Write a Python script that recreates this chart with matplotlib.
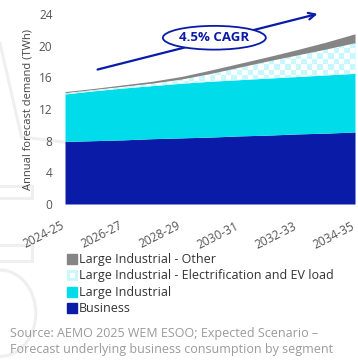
import numpy as np
import matplotlib
matplotlib.use("Agg")
import matplotlib.pyplot as plt
import matplotlib.transforms as mtransforms
from matplotlib.colors import ListedColormap
from matplotlib.patches import PathPatch, Ellipse, Rectangle, Arc
from matplotlib.lines import Line2D

plt.rcParams['font.family'] = ['Open Sans', 'DejaVu Sans']

# --- data (TWh) ---
years = ['2024-25', '2025-26', '2026-27', '2027-28', '2028-29', '2029-30',
         '2030-31', '2031-32', '2032-33', '2033-34', '2034-35']
business = [7.9, 8.0, 8.1, 8.25, 8.35, 8.45, 8.6, 8.7, 8.85, 8.95, 9.1]
large_ind = [6.0, 6.3, 6.55, 6.7, 6.9, 7.05, 7.1, 7.2, 7.25, 7.35, 7.4]
electrif = [0.1, 0.1, 0.15, 0.25, 0.45, 0.9, 1.5, 2.1, 2.65, 3.2, 3.8]
li_other = [0.2, 0.2, 0.25, 0.3, 0.4, 0.5, 0.55, 0.6, 0.75, 0.95, 1.2]
yticks = [0, 4, 8, 12, 16, 20, 24]
tick_years = years[::2]

c_bus = '#0a1ba8'
c_li = '#00dcea'
c_chk = '#c8f8fd'
c_oth = '#858585'

fig = plt.figure(figsize=(3.58, 3.60), dpi=100)

# faint watermark shapes on the left (behind everything)
wm = '#efefef'
wkw = dict(lw=2.2, transform=fig.transFigure, zorder=-5)
fig.lines.append(Line2D([0.0, 0.06], [0.88, 0.62], color=wm, **wkw))
fig.lines.append(Line2D([0.06, 0.18], [0.62, 0.605], color=wm, **wkw))
fig.patches.append(Rectangle((-0.02, 0.45), 0.11, 0.032, fill=False, ec=wm, **wkw))
fig.patches.append(Rectangle((-0.02, 0.275), 0.11, 0.045, fill=False, ec=wm, **wkw))
fig.patches.append(Arc((0.0, 0.13), 0.2, 0.24, theta1=-90, theta2=90, ec=wm, **wkw))

ax = fig.add_axes([65 / 358, 1 - 204 / 360, 290 / 358, 190 / 360])
x = np.arange(len(years))

b = np.array(business)
l_top = b + np.array(large_ind)
e_top = l_top + np.array(electrif)
o_top = e_top + np.array(li_other)

ax.fill_between(x, 0, b, color=c_bus, lw=0, zorder=2)
ax.fill_between(x, b, l_top, color=c_li, lw=0, zorder=2)
poly = ax.fill_between(x, l_top, e_top, color=c_chk, lw=0, zorder=2)
ax.fill_between(x, e_top, o_top, color=c_oth, lw=0, zorder=2)

# checker pattern clipped to the electrification band
nx, ny = 54, 34
chk = (np.add.outer(np.arange(ny), np.arange(nx)) % 2)
im = ax.imshow(chk, extent=[0, 10, 0, 24], cmap=ListedColormap(['white', c_chk]),
               aspect='auto', interpolation='nearest', origin='lower', zorder=3)
clip = PathPatch(poly.get_paths()[0], transform=ax.transData, fc='none', ec='none')
ax.add_patch(clip)
im.set_clip_path(clip)

ax.set_xlim(0, 10)
ax.set_ylim(0, 24)
ax.set_yticks(yticks)
ax.set_xticks(x[::2])
ax.set_xticklabels(tick_years, rotation=27, ha='right', rotation_mode='anchor')
ax.tick_params(length=0, labelsize=8.6, colors='#555555')
ax.tick_params(axis='y', pad=9)
ax.tick_params(axis='x', pad=11)
# nudge the rotated year labels a little left so the last one fits
shift = mtransforms.ScaledTranslation(-4 / 100, 0, fig.dpi_scale_trans)
for lab in ax.get_xticklabels():
    lab.set_transform(lab.get_transform() + shift)
for s in ax.spines.values():
    s.set_visible(False)
ax.set_facecolor('none')
ax.set_ylabel('Annual forecast demand (TWh)', fontsize=8, color='#444444', labelpad=4)

# CAGR arrow + ellipse
ax.annotate('', xy=(8.8, 24.1), xytext=(1.03, 16.9),
            arrowprops=dict(arrowstyle='->', color=c_bus, lw=1.6, mutation_scale=12),
            annotation_clip=False, zorder=5)
ax.add_patch(Ellipse((5.15, 21.0), 3.55, 3.0, fc='white', ec=c_bus, lw=1.3, zorder=6, clip_on=False))
ax.text(5.15, 21.0, '4.5% CAGR', ha='center', va='center', fontsize=9.5,
        fontweight='bold', color=c_bus, zorder=7)

# legend
handles = [
    Line2D([], [], ls='none', marker='s', ms=7, mfc=c_oth, mec=c_oth),
    Line2D([], [], ls='none', marker='s', ms=6, mfc='white', mec=c_chk, mew=2),
    Line2D([], [], ls='none', marker='s', ms=7, mfc=c_li, mec=c_li),
    Line2D([], [], ls='none', marker='s', ms=7, mfc=c_bus, mec=c_bus),
]
labels = ['Large Industrial - Other', 'Large Industrial - Electrification and EV load',
          'Large Industrial', 'Business']
fig.legend(handles, labels, loc='upper left', bbox_to_anchor=(68 / 358, 1 - 253 / 360),
           frameon=False, fontsize=9, handlelength=0.6, handletextpad=0.25,
           labelspacing=0.28, borderpad=0, borderaxespad=0, labelcolor='#333333')

fig.text(10 / 358, 1 - 334 / 360, 'Source: AEMO 2025 WEM ESOO; Expected Scenario –',
         fontsize=9, color='#9a9a9a', va='center')
fig.text(10 / 358, 1 - 349 / 360, 'Forecast underlying business consumption by segment',
         fontsize=9, color='#9a9a9a', va='center')

fig.savefig('out.png', dpi=100)
